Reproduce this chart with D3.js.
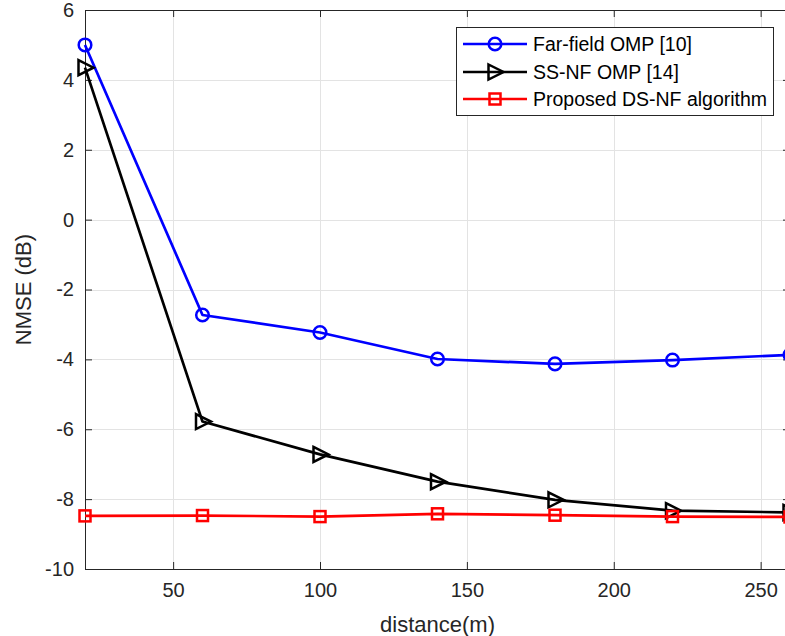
<!DOCTYPE html>
<html>
<head>
<meta charset="utf-8">
<script src="https://cdn.jsdelivr.net/npm/d3@7"></script>
<style>
  body { margin: 0; background: #fff; }
  svg { display: block; font-family: 'Liberation Sans', Arial, sans-serif; }
</style>
</head>
<body>
<div id="chart"></div>
<script>
// Data
var distances = [20, 60, 100, 140, 180, 220, 260];
var farFieldOmp = [5.0, -2.73, -3.23, -3.99, -4.13, -4.02, -3.87];
var ssNfOmp = [4.35, -5.78, -6.72, -7.5, -8.02, -8.33, -8.38];
var proposedDsNf = [-8.48, -8.47, -8.5, -8.42, -8.46, -8.5, -8.51];

var xTicks = [50, 100, 150, 200, 250];
var yTicks = [-10, -8, -6, -4, -2, 0, 2, 4, 6];

var seriesNames = ['Far-field OMP [10]', 'SS-NF OMP [14]', 'Proposed DS-NF algorithm'];
var seriesValues = [farFieldOmp, ssNfOmp, proposedDsNf];
var seriesColors = ['#0000ff', '#000000', '#ff0000'];
var seriesMarkers = ['circle', 'triangle', 'square'];

var width = 785, height = 636;
var margin = { left: 85, top: 10, right: 790, bottom: 569 };
var axisColor = '#262626';

var svg = d3.select('#chart')
  .append('svg')
  .attr('width', width)
  .attr('height', height);

var x = d3.scaleLinear().domain([20, 260]).range([margin.left, margin.right]);
var y = d3.scaleLinear().domain([-10, 6]).range([margin.bottom, margin.top]);

// plain hyphen for negatives, like the original
var plain = function (d) { return String(d); };

// Grid
var grid = svg.append('g').attr('stroke', '#e3e3e3').attr('stroke-width', 1);
xTicks.forEach(function (t) {
  grid.append('line')
    .attr('x1', Math.round(x(t)) + 0.5).attr('x2', Math.round(x(t)) + 0.5)
    .attr('y1', margin.top).attr('y2', margin.bottom);
});
yTicks.forEach(function (t) {
  grid.append('line')
    .attr('x1', margin.left).attr('x2', margin.right)
    .attr('y1', Math.round(y(t)) + 0.5).attr('y2', Math.round(y(t)) + 0.5);
});

// Axes (box on, ticks inside)
var tickLen = 7;
svg.append('g')
  .attr('transform', 'translate(0,' + margin.bottom + ')')
  .call(d3.axisBottom(x).tickValues(xTicks).tickFormat(plain).tickSizeInner(-tickLen).tickSizeOuter(0).tickPadding(14))
  .call(styleAxis);
svg.append('g')
  .attr('transform', 'translate(0,' + margin.top + ')')
  .call(d3.axisTop(x).tickValues(xTicks).tickSizeInner(-tickLen).tickSizeOuter(0).tickFormat(''))
  .call(styleAxis);
svg.append('g')
  .attr('transform', 'translate(' + margin.left + ',0)')
  .call(d3.axisLeft(y).tickValues(yTicks).tickFormat(plain).tickSizeInner(-tickLen).tickSizeOuter(0).tickPadding(11))
  .call(styleAxis);
svg.append('g')
  .attr('transform', 'translate(' + margin.right + ',0)')
  .call(d3.axisRight(y).tickValues(yTicks).tickSizeInner(-tickLen).tickSizeOuter(0).tickFormat(''))
  .call(styleAxis);

function styleAxis(g) {
  g.select('.domain').attr('stroke', axisColor).attr('stroke-width', 1);
  g.selectAll('.tick line').attr('stroke', axisColor);
  g.selectAll('.tick text')
    .attr('fill', axisColor)
    .style('font-size', '20px')
    .style('font-family', "'Liberation Sans', Arial, sans-serif");
}

// Axis labels
svg.append('text')
  .attr('x', (margin.left + margin.right) / 2)
  .attr('y', 632)
  .attr('text-anchor', 'middle')
  .attr('fill', axisColor)
  .style('font-size', '22px')
  .text('distance(m)');

svg.append('text')
  .attr('transform', 'translate(31,' + ((margin.top + margin.bottom) / 2) + ') rotate(-90)')
  .attr('text-anchor', 'middle')
  .attr('fill', axisColor)
  .style('font-size', '22px')
  .text('NMSE (dB)');

// Markers
function drawMarker(g, type, cx, cy, color) {
  if (type === 'circle') {
    g.append('circle')
      .attr('cx', cx).attr('cy', cy).attr('r', 6.3)
      .attr('fill', 'none').attr('stroke', color).attr('stroke-width', 2.5);
  } else if (type === 'triangle') {
    g.append('path')
      .attr('d', 'M' + (cx - 6.5) + ',' + (cy - 7.5) + 'L' + (cx + 8.5) + ',' + cy +
        'L' + (cx - 6.5) + ',' + (cy + 7.5) + 'Z')
      .attr('fill', 'none').attr('stroke', color).attr('stroke-width', 2.5);
  } else {
    g.append('rect')
      .attr('x', cx - 5.5).attr('y', cy - 5.5).attr('width', 11).attr('height', 11)
      .attr('fill', 'none').attr('stroke', color).attr('stroke-width', 2.5);
  }
}

var line = d3.line()
  .x(function (d) { return x(d[0]); })
  .y(function (d) { return y(d[1]); });

seriesValues.forEach(function (vals, i) {
  var pts = distances.map(function (d, j) { return [d, vals[j]]; });
  var g = svg.append('g');
  g.append('path')
    .datum(pts)
    .attr('d', line)
    .attr('fill', 'none')
    .attr('stroke', seriesColors[i])
    .attr('stroke-width', 2.7)
    .attr('stroke-linejoin', 'round');
  pts.forEach(function (p) {
    drawMarker(g, seriesMarkers[i], x(p[0]), y(p[1]), seriesColors[i]);
  });
});

// Legend
var legend = svg.append('g');
legend.append('rect')
  .attr('x', 456.5).attr('y', 27.5)
  .attr('width', 317).attr('height', 88)
  .attr('fill', '#fff')
  .attr('stroke', axisColor)
  .attr('stroke-width', 1);

var legendRows = [44, 72, 99];
seriesNames.forEach(function (name, i) {
  var ly = legendRows[i];
  legend.append('line')
    .attr('x1', 463).attr('x2', 527)
    .attr('y1', ly).attr('y2', ly)
    .attr('stroke', seriesColors[i])
    .attr('stroke-width', 2.7);
  drawMarker(legend, seriesMarkers[i], 495, ly, seriesColors[i]);
  legend.append('text')
    .attr('x', 533)
    .attr('y', ly + 7)
    .attr('fill', '#000')
    .style('font-size', '19.5px')
    .text(name);
});
</script>
</body>
</html>
